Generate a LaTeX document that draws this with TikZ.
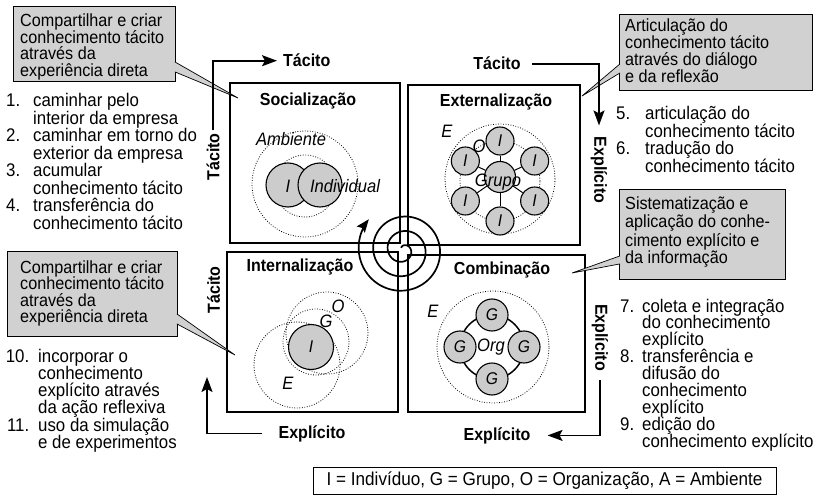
\documentclass[tikz,border=0pt]{standalone}
\usepackage{fontspec}
\setmainfont{Liberation Sans}[FakeStretch=0.92]
\usetikzlibrary{arrows.meta,calc}
\definecolor{boxgray}{gray}{0.82}
\definecolor{circgray}{gray}{0.80}
\newlength\numw
\newlength\numsep
\newcommand\ent[2]{\hbox{\hbox to\numw{\hfil#1}\hskip\numsep\relax#2}}
\newcommand\myline[1]{\hbox{#1}}
\newcommand\txtblock[2]{\vtop{\baselineskip=#1\lineskiplimit=-60pt\lineskip=0pt\relax#2}}
\begin{document}
\begin{tikzpicture}[x=1pt,y=-1pt,
  txt/.style={inner sep=0pt, anchor=base west, font=\fontsize{18.3}{17.5}\selectfont},
  ctxt/.style={inner sep=0pt, anchor=base west, font=\fontsize{17.6}{16.5}\selectfont},
  lbl/.style={font=\bfseries\fontsize{17.4}{18}\selectfont, inner sep=3pt},
  ttl/.style={font=\bfseries\fontsize{17.4}{18}\selectfont, inner sep=0pt, anchor=base},
  itl/.style={font=\itshape\fontsize{18}{18}\selectfont, inner sep=0pt},
  quad/.style={line width=1.7pt},
  cbox/.style={draw, line width=0.9pt, fill=boxgray, inner sep=0pt},
  wedge/.style={fill=boxgray, draw, line width=0.7pt, line join=miter},
  dotc/.style={dash pattern=on 0.8pt off 1.7pt, line width=0.8pt},
  gc/.style={circle, draw, line width=1.1pt, fill=circgray, inner sep=0pt, font=\itshape\fontsize{17}{17}\selectfont},
  arr/.style={line width=1.8pt, -{Stealth[length=15pt,width=11pt,inset=3pt]}},
]
\useasboundingbox (0,0) rectangle (819,497);
\fill[white] (0,0) rectangle (819,497);

% quadrant boxes
\draw[quad] (230,83) rectangle (400,243);
\draw[quad] (408,85) rectangle (580,245);
\draw[quad] (227,252) rectangle (398,412);
\draw[quad] (408,255) rectangle (585,412);

% spiral
\draw[line width=1.7pt, -{Stealth[length=13pt,width=10pt,inset=2pt]}]
  plot[domain=1.2:19.9, samples=300, smooth, variable=\t]
  ({403+2.31*\t*cos(deg(\t)-198)}, {250+2.31*\t*sin(deg(\t)-198)});

% titles
\node[ttl] (tsoc) at (308,106) {Socialização};
\node[ttl] (text) at (496,107) {Externalização};
\node[ttl] (tint) at (300,271) {Internalização};
\node[ttl] (tcomb) at (502,274) {Combinação};

% socializacao
\draw[dotc] (305,184) circle[radius=53pt];
\draw[dotc] (305,186) circle[radius=31pt];
\node[gc, minimum size=44pt] (ci) at (288,185) {};
\node[gc, minimum size=44pt] (cind) at (320,185) {};
\node[itl] (lam) at (291,139) {Ambiente};
\node[itl] (li) at (288,186) {I};
\node[itl] (lind) at (345,186) {Individual};

% externalizacao
\draw[dotc] (500,179) circle[radius=55pt];
\draw[dotc] (500,181) circle[radius=40pt];
\node[gc, minimum size=31pt] (grp) at (500,177) {};
\foreach \a/\n in {90/a,30/b,-30/c,-90/d,-150/e,150/f}{
  \node[gc, minimum size=28pt] (i\n) at ($(500,181)+(\a:40pt)$) {I};
  \draw[line width=1pt] (grp) -- (i\n);
}
\node[itl] (lgrp) at (498,182) {Grupo};
\node[itl] (le1) at (447,131) {E};
\node[itl] (lo1) at (479,146) {O};

% internalizacao
\draw[dotc] (297,365) circle[radius=43pt];
\draw[dotc] (316,342) circle[radius=33pt];
\draw[dotc] (327,333) circle[radius=41pt];
\node[gc, minimum size=45pt] (ii) at (311,347) {I};
\node[itl] (lo2) at (338,306) {O};
\node[itl] (lg2) at (326,321) {G};
\node[itl] (le2) at (288,383) {E};

% combinacao
\draw[dotc] (493,347) circle[radius=56pt];
\draw[line width=1.5pt] (492,347) circle[radius=32pt];
\node[gc, minimum size=32pt] (g1) at (492,315) {G};
\node[gc, minimum size=32pt] (g2) at (524,347) {G};
\node[gc, minimum size=32pt] (g3) at (492,379) {G};
\node[gc, minimum size=32pt] (g4) at (460,347) {G};
\node[itl] (lorg) at (491,347) {Org};
\node[itl] (le3) at (433,311) {E};

% callouts
\node[cbox, anchor=north west, minimum width=162pt, minimum height=75pt] (co1) at (13,6) {};
\coordinate (co1tip) at (238,98);
\filldraw[wedge] ($(co1.south east)+(-1,-20)$) -- (co1tip) -- ($(co1.south east)+(-1,-10)$);
\node[ctxt] (co1t) at (20,27) {\txtblock{16.5pt}{\myline{Compartilhar e criar}\myline{conhecimento tácito}\myline{através da}\myline{experiência direta}}};

\node[cbox, anchor=north west, minimum width=170pt, minimum height=85pt] (co2) at (7,251) {};
\coordinate (co2tip) at (235,355);
\filldraw[wedge] ($(co2.south east)+(-1,-23)$) -- (co2tip) -- ($(co2.south east)+(-1,-13)$);
\node[ctxt] (co2t) at (20,273) {\txtblock{16.5pt}{\myline{Compartilhar e criar}\myline{conhecimento tácito}\myline{através da}\myline{experiência direta}}};

\node[cbox, anchor=north west, minimum width=193pt, minimum height=76pt] (co3) at (619,14) {};
\coordinate (co3tip) at (582,96);
\filldraw[wedge] ($(co3.south west)+(1,-27)$) -- (co3tip) -- ($(co3.south west)+(1,-18)$);
\node[ctxt] (co3t) at (625,32) {\txtblock{17pt}{\myline{Articulação do}\myline{conhecimento tácito}\myline{através do diálogo}\myline{e da reflexão}}};

\node[cbox, anchor=north west, minimum width=166pt, minimum height=90pt] (co4) at (619,189) {};
\coordinate (co4tip) at (572,273);
\filldraw[wedge] ($(co4.south west)+(1,-24)$) -- (co4tip) -- ($(co4.south west)+(1,-16)$);
\node[ctxt] (co4t) at (625,210) {\txtblock{18pt}{\myline{Sistematização e}\myline{aplicação do conhe-}\myline{cimento explícito e}\myline{da informação}}};

% lists
\node[txt] (l1) at (5,107) {\numw=15pt\numsep=13pt\txtblock{17.5pt}{%
  \ent{1.}{caminhar pelo}\ent{}{interior da empresa}%
  \ent{2.}{caminhar em torno do}\ent{}{exterior da empresa}%
  \ent{3.}{acumular}\ent{}{conhecimento tácito}%
  \ent{4.}{transferência do}\ent{}{conhecimento tácito}}};
\node[txt] (l2) at (610,120) {\numw=20pt\numsep=15pt\txtblock{17.5pt}{%
  \ent{5.}{articulação do}\ent{}{conhecimento tácito}%
  \ent{6.}{tradução do}\ent{}{conhecimento tácito}}};
\node[txt] (l3) at (617,312) {\numw=17pt\numsep=8pt\txtblock{16.9pt}{%
  \ent{7.}{coleta e integração}\ent{}{do conhecimento}\ent{}{explícito}%
  \ent{8.}{transferência e}\ent{}{difusão do}\ent{}{conhecimento}\ent{}{explícito}%
  \ent{9.}{edição do}\ent{}{conhecimento explícito}}};
\node[txt] (l4) at (5,362) {\numw=24pt\numsep=9pt\txtblock{17.3pt}{%
  \ent{10.}{incorporar o}\ent{}{conhecimento}\ent{}{explícito através}\ent{}{da ação reflexiva}%
  \ent{11.}{uso da simulação}\ent{}{e de experimentos}}};

% legend
\node[draw, line width=1pt, minimum width=463pt, minimum height=27pt, inner sep=0pt,
  font=\fontsize{18.6}{20}\selectfont] (leg) at (544.5,481) {I = Indivíduo, G = Grupo, O = Organização, A = Ambiente};

% axis labels and arrows
\node[lbl, anchor=base west] (tacT) at (280,67) {Tácito};
\node[lbl, anchor=base] (tacR) at (497,70) {Tácito};
\node[lbl, rotate=90] (tacL) at (213,157) {Tácito};
\node[lbl, rotate=90] (tacL2) at (213.5,290) {Tácito};
\node[lbl, rotate=-90] (expR1) at (599,170) {Explícito};
\node[lbl, rotate=-90] (expR2) at (600,337.5) {Explícito};
\node[lbl, anchor=base] (expB) at (497,440) {Explícito};
\node[lbl, anchor=base] (expL) at (312,438) {Explícito};
\coordinate (tipL) at (207,377);

\draw[arr, shorten >=3pt] (tacL.east) |- (tacT.west);
\draw[arr, shorten <=8pt, shorten >=8pt] (tacR.east) -| (expR1.west);
\draw[arr, shorten <=6pt, shorten >=14pt] (expR2.east) |- (expB.east);
\draw[arr, shorten <=13pt] (expL.west) -| (tipL);
\end{tikzpicture}
\end{document}
